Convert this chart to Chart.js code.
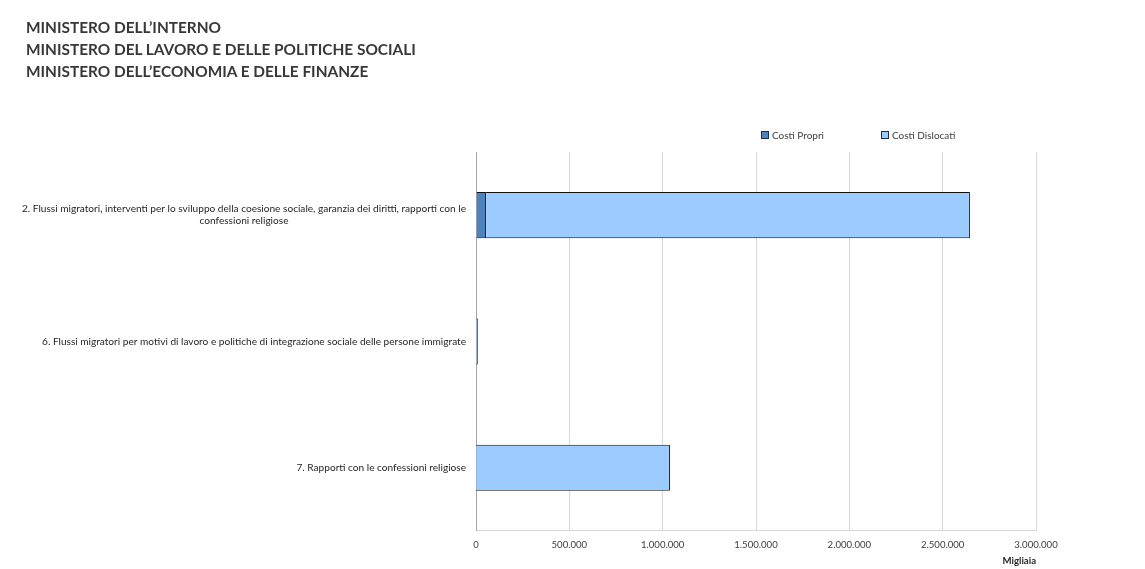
<!DOCTYPE html>
<html>
<head>
<meta charset="utf-8">
<script src="https://cdn.jsdelivr.net/npm/chart.js@4/dist/chart.umd.min.js"></script>
<style>
  body { margin: 0; background: #fff; font-family: Lato, "Noto Sans", sans-serif; }
  #wrap { position: relative; width: 1145px; height: 569px; }
  #header { position: absolute; left: 26px; top: 16px; color: #383838; font-size: 15.4px; font-weight: 700; line-height: 22px; }
  #legend { position: absolute; top: 129px; left: 0; font-size: 10px; color: #404040; }
  #legend span.item { position: absolute; white-space: nowrap; }
  #legend i { display: inline-block; width: 6px; height: 6px; border: 1px solid #1f2f44; margin-right: 3px; }
  canvas { position: absolute; left: 0; top: 0; }
</style>
</head>
<body>
<div id="wrap">
  <canvas id="chart" width="1145" height="569"></canvas>
  <div id="header">
    MINISTERO DELL’INTERNO<br>
    MINISTERO DEL LAVORO E DELLE POLITICHE SOCIALI<br>
    MINISTERO DELL’ECONOMIA E DELLE FINANZE
  </div>
  <div id="legend"></div>
</div>
<script>
const categories = [
  ['2. Flussi migratori, interventi per lo sviluppo della coesione sociale, garanzia dei diritti, rapporti con le', 'confessioni religiose'],
  '6. Flussi migratori per motivi di lavoro e politiche di integrazione sociale delle persone immigrate',
  '7. Rapporti con le confessioni religiose'
];
const costiPropri = [54000, 2000, 1000];
const costiDislocati = [2592000, 8000, 1038000];
const seriesNames = ['Costi Propri', 'Costi Dislocati'];
const seriesColors = ['#4f81bd', '#9ccbff'];
const tickValues = [0, 500000, 1000000, 1500000, 2000000, 2500000, 3000000];

const FONT = 'Lato, "Noto Sans", sans-serif';

// legend built from the series
const legendPos = [761, 881];
document.getElementById('legend').innerHTML = seriesNames
  .map((name, i) => `<span class="item" style="left:${legendPos[i]}px"><i style="background:${seriesColors[i]}"></i>${name}</span>`)
  .join('');

// y labels: single lines right aligned, wrapped labels centred on their widest line (like Excel)
const yLabelPlugin = {
  id: 'yLabels',
  afterDraw(chart) {
    const ctx = chart.ctx;
    const y = chart.scales.y;
    const right = chart.chartArea.left - 10;
    ctx.save();
    ctx.font = '10.1px ' + FONT;
    ctx.fillStyle = '#262626';
    ctx.textAlign = 'center';
    ctx.textBaseline = 'middle';
    categories.forEach((lab, i) => {
      const lines = Array.isArray(lab) ? lab : [lab];
      const widest = Math.max(...lines.map(l => ctx.measureText(l).width));
      const cx = right - widest / 2;
      const lh = 12;
      const py = y.getPixelForValue(i);
      lines.forEach((l, j) => {
        ctx.fillText(l, cx, py + (j - (lines.length - 1) / 2) * lh);
      });
    });
    ctx.restore();
  }
};

new Chart(document.getElementById('chart'), {
  type: 'bar',
  data: {
    labels: categories,
    datasets: [
      { label: seriesNames[0], data: costiPropri, backgroundColor: seriesColors[0], borderColor: '#111', borderWidth: 1 },
      { label: seriesNames[1], data: costiDislocati, backgroundColor: seriesColors[1], borderColor: '#111', borderWidth: 1 }
    ]
  },
  options: {
    responsive: false,
    animation: false,
    indexAxis: 'y',
    layout: { padding: { top: 152, right: 109, bottom: 2, left: 0 } },
    datasets: { bar: { categoryPercentage: 1, barPercentage: 0.365 } },
    plugins: {
      legend: { display: false },
      tooltip: { enabled: false }
    },
    scales: {
      x: {
        stacked: true,
        min: 0,
        max: 3000000,
        afterBuildTicks: scale => { scale.ticks = tickValues.map(v => ({ value: v })); },
        grid: {
          color: c => (c.tick && c.tick.value === 0 ? '#a6a6a6' : '#d9d9d9'),
          drawTicks: false
        },
        border: { color: '#d9d9d9' },
        ticks: {
          padding: 8,
          color: '#404040',
          font: { family: FONT, size: 9.6 },
          callback: v => v.toLocaleString('it-IT')
        },
        title: {
          display: true,
          text: 'Migliaia',
          align: 'end',
          color: '#262626',
          font: { family: FONT, size: 9.6, weight: 'bold' },
          padding: { top: -3, bottom: 0 }
        }
      },
      y: {
        stacked: true,
        grid: { display: false },
        border: { color: '#a6a6a6' },
        ticks: { display: false },
        afterFit: scale => { scale.width = 476; }
      }
    }
  },
  plugins: [yLabelPlugin]
});
</script>
</body>
</html>
